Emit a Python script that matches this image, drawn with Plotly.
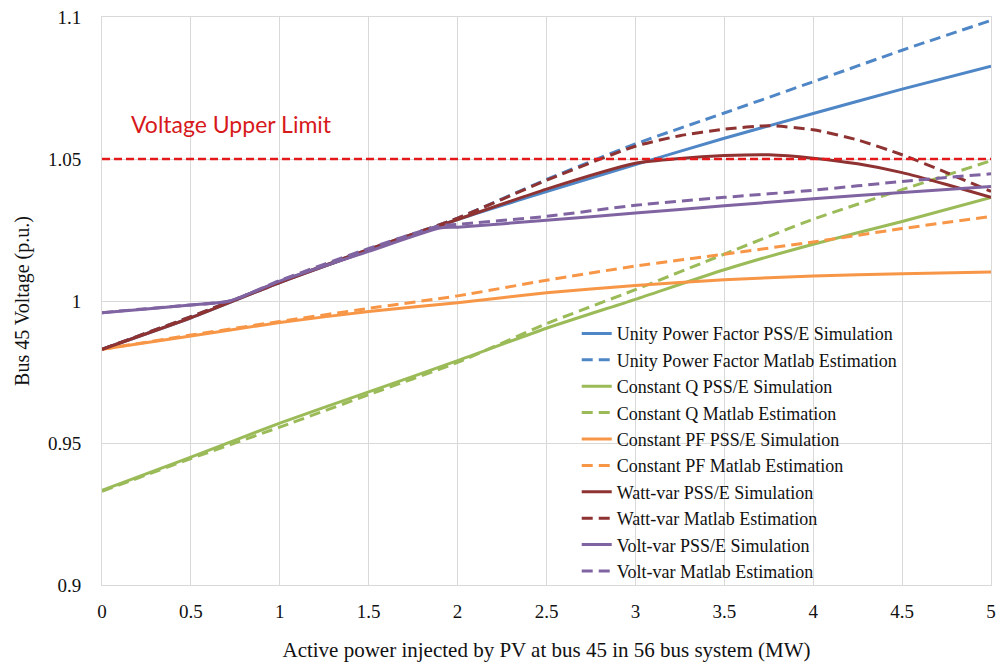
import plotly.graph_objects as go

# ---------------- data ----------------
x_std = [0, 0.5, 1, 1.5, 2, 2.5, 3, 3.5, 4, 4.5, 5]

unity_pss = [0.983, 0.9941, 1.0065, 1.0178, 1.0287, 1.0385, 1.048, 1.0573, 1.066, 1.0746, 1.0827]
unity_mat = [0.983, 0.9945, 1.0067, 1.0182, 1.0292, 1.0428, 1.0553, 1.0662, 1.0772, 1.0883, 1.0988]

constq_pss = [0.9333, 0.945, 0.957, 0.968, 0.979, 0.9904, 1.0006, 1.011, 1.020, 1.028, 1.0365]
constq_mat = [0.933, 0.9445, 0.9556, 0.967, 0.9784, 0.992, 1.004, 1.0165, 1.0288, 1.0392, 1.0494]

constpf_pss = [0.983, 0.9877, 0.9924, 0.9963, 0.9994, 1.0029, 1.0055, 1.0075, 1.0088, 1.0096, 1.0102]
constpf_mat = [0.983, 0.988, 0.9928, 0.9974, 1.0018, 1.0073, 1.0123, 1.0165, 1.0208, 1.0255, 1.0298]

x_wattvar = [0, 0.5, 1, 1.5, 2, 2.5, 3, 3.25, 3.5, 3.75, 4, 4.25, 4.5, 4.75, 5]
wattvar_pss = [0.983, 0.9941, 1.0065, 1.0178, 1.0287, 1.0394, 1.0485, 1.0502, 1.0512, 1.0515, 1.0503, 1.0483, 1.0452, 1.041, 1.0365]
wattvar_mat = [0.983, 0.9945, 1.0067, 1.0182, 1.0292, 1.0425, 1.0545, 1.0582, 1.0605, 1.0617, 1.0603, 1.0567, 1.0515, 1.0452, 1.0386]

x_voltvar = [0, 0.25, 0.5, 0.72, 1, 1.5, 1.9, 2, 2.5, 3, 3.5, 4, 4.5, 5]
voltvar_pss = [0.9959, 0.9972, 0.9986, 1.0, 1.007, 1.0175, 1.0257, 1.026, 1.0284, 1.031, 1.0335, 1.036, 1.0382, 1.0403]
voltvar_mat = [0.9959, 0.9973, 0.9986, 1.0, 1.0072, 1.0185, 1.0265, 1.027, 1.0298, 1.0337, 1.0365, 1.039, 1.0421, 1.0448]

limit_x = [0, 5]
limit_y = [1.05, 1.05]

x_tickvals = [0, 0.5, 1, 1.5, 2, 2.5, 3, 3.5, 4, 4.5, 5]
x_ticktext = ["0", "0.5", "1", "1.5", "2", "2.5", "3", "3.5", "4", "4.5", "5"]
y_tickvals = [0.9, 0.95, 1.0, 1.05, 1.1]
y_ticktext = ["0.9", "0.95", "1", "1.05", "1.1"]

# ---------------- styles ----------------
BLUE = "#4F86C6"
GREEN = "#9BBB59"
ORANGE = "#F79646"
DRED = "#8E3232"
PURPLE = "#8064A2"
RED = "#E3191C"
DASH = "11px,6px"
SERIF = "'Liberation Serif', Tinos, 'Times New Roman', Times, 'DejaVu Serif', serif"

series = [
    ("Unity Power Factor PSS/E Simulation", x_std, unity_pss, BLUE, "solid"),
    ("Unity Power Factor Matlab Estimation", x_std, unity_mat, BLUE, DASH),
    ("Constant Q PSS/E Simulation", x_std, constq_pss, GREEN, "solid"),
    ("Constant Q Matlab Estimation", x_std, constq_mat, GREEN, DASH),
    ("Constant PF PSS/E Simulation", x_std, constpf_pss, ORANGE, "solid"),
    ("Constant PF Matlab Estimation", x_std, constpf_mat, ORANGE, DASH),
    ("Watt-var PSS/E Simulation", x_wattvar, wattvar_pss, DRED, "solid"),
    ("Watt-var Matlab Estimation", x_wattvar, wattvar_mat, DRED, DASH),
    ("Volt-var PSS/E Simulation", x_voltvar, voltvar_pss, PURPLE, "solid"),
    ("Volt-var Matlab Estimation", x_voltvar, voltvar_mat, PURPLE, DASH),
]

fig = go.Figure()
for name, xs, ys, col, dash in series:
    fig.add_trace(go.Scatter(
        x=xs, y=ys, name=name, mode="lines",
        line=dict(color=col, width=3, dash=dash, shape="spline", smoothing=0.6),
    ))

fig.add_trace(go.Scatter(
    x=limit_x, y=limit_y, mode="lines", showlegend=False, hoverinfo="skip",
    line=dict(color=RED, width=2.5, dash="8px,4px"),
))

fig.add_annotation(
    x=0.152, y=1.0625, xref="x", yref="y", text="Voltage Upper Limit",
    showarrow=False, xanchor="left", yanchor="middle",
    font=dict(family="Lato", size=23, color="#D7191C"),
)

axis_common = dict(
    showgrid=True, gridcolor="#D9D9D9", gridwidth=1,
    zeroline=False, showline=True, linecolor="#D9D9D9", linewidth=1, mirror=True,
    ticks="outside", tickcolor="rgba(0,0,0,0)",
    tickfont=dict(family=SERIF, size=19, color="#111"),
)

fig.update_xaxes(
    range=[0, 5], tickvals=x_tickvals, ticktext=x_ticktext, ticklen=9,
    title=dict(text="Active power injected by PV at bus 45 in 56 bus system (MW)",
               font=dict(family=SERIF, size=21, color="#111"), standoff=21),
    **axis_common,
)
fig.update_yaxes(
    range=[0.9, 1.1], tickvals=y_tickvals, ticktext=y_ticktext, ticklen=16,
    title=dict(text="Bus 45 Voltage (p.u.)",
               font=dict(family=SERIF, size=20, color="#111"), standoff=12),
    **axis_common,
)

fig.update_layout(
    width=1003, height=667,
    margin=dict(l=102, r=7, t=15, b=82),
    paper_bgcolor="white", plot_bgcolor="white",
    showlegend=True,
    legend=dict(
        x=0.534, y=0.475, xanchor="left", yanchor="top",
        bgcolor="rgba(0,0,0,0)", borderwidth=0,
        font=dict(family=SERIF, size=18, color="#111"),
        traceorder="normal", tracegroupgap=0,
    ),
)

fig.write_html("out.html")
